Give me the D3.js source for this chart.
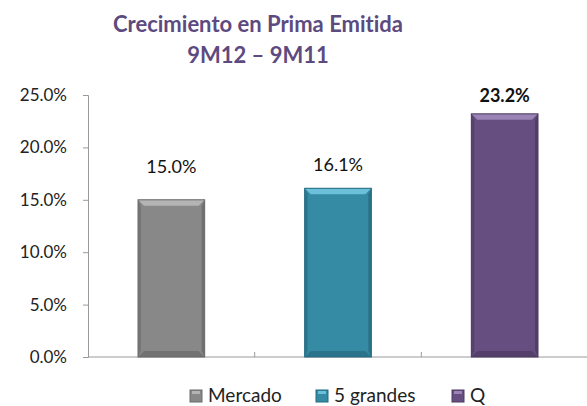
<!DOCTYPE html>
<html>
<head>
<meta charset="utf-8">
<script src="https://cdn.jsdelivr.net/npm/d3@7"></script>
<style>
  body { margin: 0; background: #fff; }
  svg { display: block; font-family: Lato, "Open Sans", sans-serif; font-variant-ligatures: none; }
</style>
</head>
<body>
<svg id="chart" width="587" height="406"></svg>
<script>
// data
const categories = ['Mercado', '5 grandes', 'Q'];
const values = [15.0, 16.1, 23.2];
const labels = ['15.0%', '16.1%', '23.2%'];
const yTicks = [0, 5, 10, 15, 20, 25];

const colors = {
    'Mercado': {base: '#888888', light: '#b4b4b4', dark: '#6a6a6a'},
    '5 grandes': {base: '#358aa4', light: '#6cc0da', dark: '#256b80'},
    'Q': {base: '#664f80', light: '#9a83b5', dark: '#4d3a62'}
};

const svg = d3.select('#chart');
const plot = {left: 88, right: 588, top: 95, bottom: 357};

// title
svg.append('text')
    .attr('x', 258).attr('y', 32)
    .attr('text-anchor', 'middle')
    .attr('font-size', '22px').attr('font-weight', 'bold')
    .attr('fill', '#5d4a7f')
    .text('Crecimiento en Prima Emitida');
svg.append('text')
    .attr('x', 258).attr('y', 63)
    .attr('text-anchor', 'middle')
    .attr('font-size', '22px').attr('font-weight', 'bold')
    .attr('fill', '#5d4a7f')
    .text('9M12 \u2013 9M11');

// scales
const x = d3.scaleBand().domain(categories).range([plot.left, plot.right]).paddingInner(0.6).paddingOuter(0.3);
const y = d3.scaleLinear().domain([0, 25]).range([plot.bottom, plot.top]);

// y axis
const yAxis = d3.axisLeft(y).tickValues(yTicks).tickFormat(d => d.toFixed(1) + '%').tickSize(5).tickPadding(16);
const gy = svg.append('g').attr('transform', `translate(${plot.left},0)`).call(yAxis);
gy.select('.domain').attr('stroke', '#9a9a9a');
gy.selectAll('.tick line').attr('stroke', '#9a9a9a');
gy.selectAll('.tick text').attr('font-size', '17px').attr('fill', '#222').attr('font-family', 'Lato, sans-serif');

// x axis line + separator ticks
svg.append('line')
    .attr('x1', plot.left).attr('x2', plot.right)
    .attr('y1', plot.bottom).attr('y2', plot.bottom)
    .attr('stroke', '#9a9a9a');
const seps = [1, 2].map(i => plot.left + (plot.right - plot.left) * i / 3);
svg.selectAll('.sep').data(seps).enter().append('line')
    .attr('x1', d => d).attr('x2', d => d)
    .attr('y1', plot.bottom - 5).attr('y2', plot.bottom)
    .attr('stroke', '#9a9a9a');

// bevelled bars
const bev = 6;
const bars = svg.selectAll('.bar').data(categories).enter().append('g');
bars.each(function(c, i) {
    const g = d3.select(this);
    const x0 = x(c), x1 = x(c) + x.bandwidth();
    const y0 = y(values[i]), y1 = y(0);
    const col = colors[c];
    g.append('rect').attr('x', x0).attr('y', y0).attr('width', x1 - x0).attr('height', y1 - y0)
        .attr('fill', col.base);
    // top bevel
    g.append('polygon').attr('points', [[x0, y0], [x1, y0], [x1 - bev, y0 + bev], [x0 + bev, y0 + bev]].join(' '))
        .attr('fill', col.light);
    // left and right bevel
    g.append('polygon').attr('points', [[x0, y0], [x0 + bev - 3, y0 + bev], [x0 + bev - 3, y1 - bev], [x0, y1]].join(' '))
        .attr('fill', col.dark).attr('opacity', 0.6);
    g.append('polygon').attr('points', [[x1, y0], [x1 - bev + 3, y0 + bev], [x1 - bev + 3, y1 - bev], [x1, y1]].join(' '))
        .attr('fill', col.dark).attr('opacity', 0.8);
    // bottom bevel
    g.append('polygon').attr('points', [[x0, y1], [x1, y1], [x1 - bev, y1 - bev], [x0 + bev, y1 - bev]].join(' '))
        .attr('fill', col.dark).attr('opacity', 0.7);
    g.append('rect').attr('x', x0).attr('y', y0).attr('width', x1 - x0).attr('height', y1 - y0)
        .attr('fill', 'none').attr('stroke', col.dark).attr('stroke-width', 1);
});

// value labels (moved by hand in the original, so the gap differs per bar)
const labelGap = [27, 17, 12];
svg.selectAll('.val').data(categories).enter().append('text')
    .attr('x', c => x(c) + x.bandwidth() / 2)
    .attr('y', (c, i) => y(values[i]) - labelGap[i])
    .attr('text-anchor', 'middle')
    .attr('font-size', '18px')
    .attr('font-weight', (c, i) => i === 2 ? 'bold' : 'normal')
    .attr('fill', '#111')
    .text((c, i) => labels[i]);

// legend
const legendX = [190, 316, 452];
const leg = svg.selectAll('.leg').data(categories).enter().append('g')
    .attr('transform', (c, i) => `translate(${legendX[i]},390)`);
leg.append('rect').attr('x', 0).attr('y', 0).attr('width', 12).attr('height', 12)
    .attr('fill', c => colors[c].base).attr('stroke', c => colors[c].dark);
leg.append('rect').attr('x', 2).attr('y', 1).attr('width', 8).attr('height', 3)
    .attr('fill', c => colors[c].light);
leg.append('text').attr('x', 18).attr('y', 12)
    .attr('font-size', '19px').attr('fill', '#222')
    .text(c => c);
</script>
</body>
</html>
